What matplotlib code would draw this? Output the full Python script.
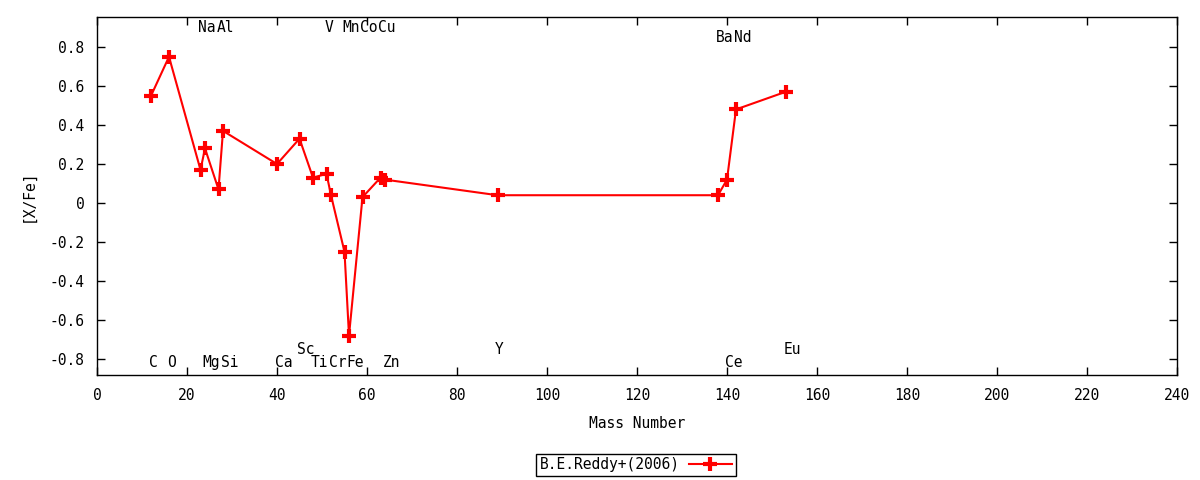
import matplotlib
matplotlib.use("Agg")
import matplotlib.pyplot as plt

# Elemente, Massenzahlen und [X/Fe]-Werte (B.E.Reddy+ 2006)
elements = ["C", "O", "Na", "Mg", "Al", "Si", "Ca", "Sc", "Ti", "V", "Cr",
            "Mn", "Fe", "Co", "Cu", "Zn", "Y", "Ba", "Ce", "Nd", "Eu"]
mass = [12, 16, 23, 24, 27, 28, 40, 45, 48, 51, 52,
        55, 56, 59, 63, 64, 89, 138, 140, 142, 153]
xfe = [0.55, 0.75, 0.17, 0.28, 0.07, 0.37, 0.20, 0.33, 0.13, 0.15, 0.04,
       -0.25, -0.68, 0.03, 0.13, 0.12, 0.04, 0.04, 0.12, 0.48, 0.57]
# Hoehe der Element-Beschriftung
label_y = [-0.82, -0.82, 0.90, -0.82, 0.90, -0.82, -0.82, -0.75, -0.82, 0.90, -0.82,
           0.90, -0.82, 0.90, 0.90, -0.82, -0.75, 0.85, -0.82, 0.85, -0.75]

plt.rcParams["font.family"] = ["DejaVu Sans Mono"]
plt.rcParams["font.size"] = 10.5

fig = plt.figure(figsize=(12, 4.8), dpi=100)
ax = fig.add_axes([97 / 1200, 1 - 375 / 480, 1080 / 1200, 358 / 480])

ax.plot(mass, xfe, color="red", linewidth=1.5, marker="+", markersize=10,
        markeredgewidth=3, label="B.E.Reddy+(2006)")

for el, m, ly in zip(elements, mass, label_y):
    ax.text(m - 0.5, ly, el, ha="left", va="center", fontsize=10.5)

ax.set_xlim(0, 240)
ax.set_ylim(-0.882, 0.954)
ax.set_xticks(range(0, 241, 20))
ax.set_yticks([-0.8, -0.6, -0.4, -0.2, 0, 0.2, 0.4, 0.6, 0.8])
ax.set_yticklabels(["-0.8", "-0.6", "-0.4", "-0.2", "0", "0.2", "0.4", "0.6", "0.8"])
ax.tick_params(direction="in", top=True, right=True, length=6, width=1, pad=9)
for s in ax.spines.values():
    s.set_linewidth(1)

ax.set_xlabel("Mass Number", labelpad=10)
ax.set_ylabel("[X/Fe]", labelpad=10)

leg = fig.legend(loc="center", bbox_to_anchor=(636 / 1200, 1 - 465 / 480),
                 markerfirst=False, fancybox=False, edgecolor="black",
                 framealpha=1, borderpad=0.25, handlelength=3.0,
                 handletextpad=0.6, prop={"size": 10.5})
leg.get_frame().set_linewidth(1)

fig.savefig("out.png", dpi=100)
